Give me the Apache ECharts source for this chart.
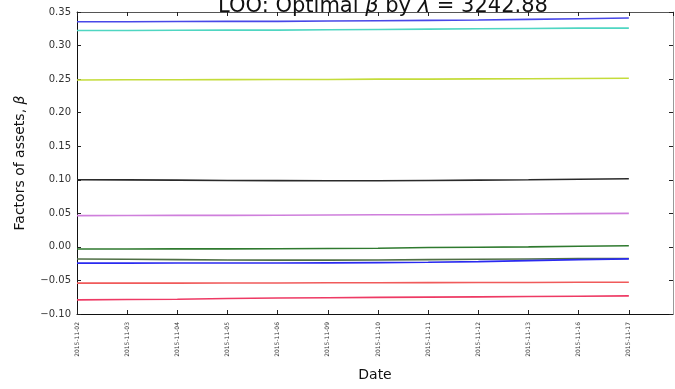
<!DOCTYPE html>
<html>
<head>
<meta charset="utf-8">
<script src="https://cdn.jsdelivr.net/npm/echarts@6/dist/echarts.min.js"></script>
<style>html,body{margin:0;padding:0;background:#fff}#c{width:675px;height:389px}</style>
</head>
<body>
<div id="c"></div>
<script>
const F="'DejaVu Sans',sans-serif";
const dates=['2015-11-02','2015-11-03','2015-11-04','2015-11-05','2015-11-06','2015-11-09','2015-11-10','2015-11-11','2015-11-12','2015-11-13','2015-11-16','2015-11-17'];
const blueTop=[0.3355,0.3355,0.3358,0.336,0.336,0.3365,0.337,0.3375,0.338,0.339,0.340,0.341];
const teal=[0.3225,0.3225,0.3228,0.323,0.323,0.3235,0.324,0.3245,0.325,0.3255,0.326,0.326];
const yellow=[0.2487,0.249,0.249,0.2492,0.2495,0.2495,0.25,0.25,0.2503,0.2505,0.251,0.2512];
const black=[0.100,0.0998,0.0995,0.099,0.0988,0.0985,0.0985,0.099,0.0995,0.1,0.1008,0.1015];
const magenta=[0.0466,0.0468,0.047,0.047,0.0472,0.0475,0.0478,0.048,0.0485,0.049,0.0495,0.050];
const green=[-0.0032,-0.0032,-0.003,-0.003,-0.0028,-0.0025,-0.002,-0.001,-0.0005,0,0.001,0.0017];
const olive=[-0.018,-0.0185,-0.019,-0.0195,-0.0197,-0.0197,-0.0195,-0.019,-0.0185,-0.018,-0.0175,-0.0173];
const blueLow=[-0.0242,-0.0242,-0.024,-0.024,-0.024,-0.0238,-0.0235,-0.023,-0.022,-0.0205,-0.019,-0.0178];
const red=[-0.054,-0.054,-0.054,-0.0538,-0.0538,-0.0535,-0.0535,-0.0532,-0.053,-0.053,-0.0528,-0.0528];
const crimson=[-0.079,-0.0785,-0.078,-0.077,-0.0762,-0.0757,-0.0752,-0.0748,-0.0745,-0.074,-0.0735,-0.073];

const lines=[
  [blueTop,'#4848e8'],[teal,'#4fd6c2'],[yellow,'#c4dc3a'],[black,'#2a2a2a'],[magenta,'#cf7fdc'],
  [green,'#2f7a2f'],[olive,'#4f6f45'],[blueLow,'#2a2af0'],[red,'#f05a5a'],[crimson,'#ee3a64']
];

const chart=echarts.init(document.getElementById('c'));
const tickIn={show:true,inside:true,length:4,lineStyle:{color:'#222',width:1}};
chart.setOption({
  animation:false,
  title:{text:'LOO: Optimal {i|β} by {i|λ} = 3242.88',left:378,textAlign:'center',top:-9,
    textStyle:{fontFamily:F,fontSize:21,fontWeight:'normal',color:'#111',
      rich:{i:{fontFamily:F,fontSize:21,fontStyle:'italic',color:'#111'}}}},
  grid:{left:77,right:2,top:12,bottom:75},
  xAxis:[
    {type:'value',min:0,max:11.88,interval:1,position:'bottom',
      name:'Date',nameLocation:'middle',nameGap:54,nameTextStyle:{fontFamily:F,fontSize:14,color:'#111'},
      axisLine:{show:true,onZero:false,lineStyle:{color:'#111',width:1}},axisTick:tickIn,splitLine:{show:false},
      axisLabel:{rotate:90,fontFamily:F,fontSize:6,color:'#333',margin:8,showMaxLabel:false,
        formatter:v=>dates[Math.round(v)]||''}},
    {type:'value',min:0,max:11.88,interval:1,position:'top',
      axisLine:{show:true,onZero:false,lineStyle:{color:'#555',width:1}},axisTick:tickIn,axisLabel:{show:false},splitLine:{show:false}}
  ],
  yAxis:[
    {type:'value',min:-0.10,max:0.35,interval:0.05,
      name:'Factors of assets, {i|β}',nameLocation:'middle',nameGap:50,
      nameTextStyle:{fontFamily:F,fontSize:14,color:'#111',rich:{i:{fontFamily:F,fontSize:14,fontStyle:'italic',color:'#111'}}},
      axisLine:{show:true,onZero:false,lineStyle:{color:'#111',width:1}},axisTick:tickIn,splitLine:{show:false},
      axisLabel:{fontFamily:F,fontSize:10,color:'#333',margin:6,formatter:v=>(v<0?'\u2212':'')+Math.abs(v).toFixed(2)}},
    {type:'value',min:-0.10,max:0.35,interval:0.05,position:'right',
      axisLine:{show:true,onZero:false,lineStyle:{color:'#999',width:1}},axisTick:tickIn,axisLabel:{show:false},splitLine:{show:false}}
  ],
  series:lines.map(([d,c])=>({type:'line',data:d.map((v,i)=>[i,v]),showSymbol:false,
    lineStyle:{color:c,width:1.6},itemStyle:{color:c}}))
});
</script>
</body>
</html>
